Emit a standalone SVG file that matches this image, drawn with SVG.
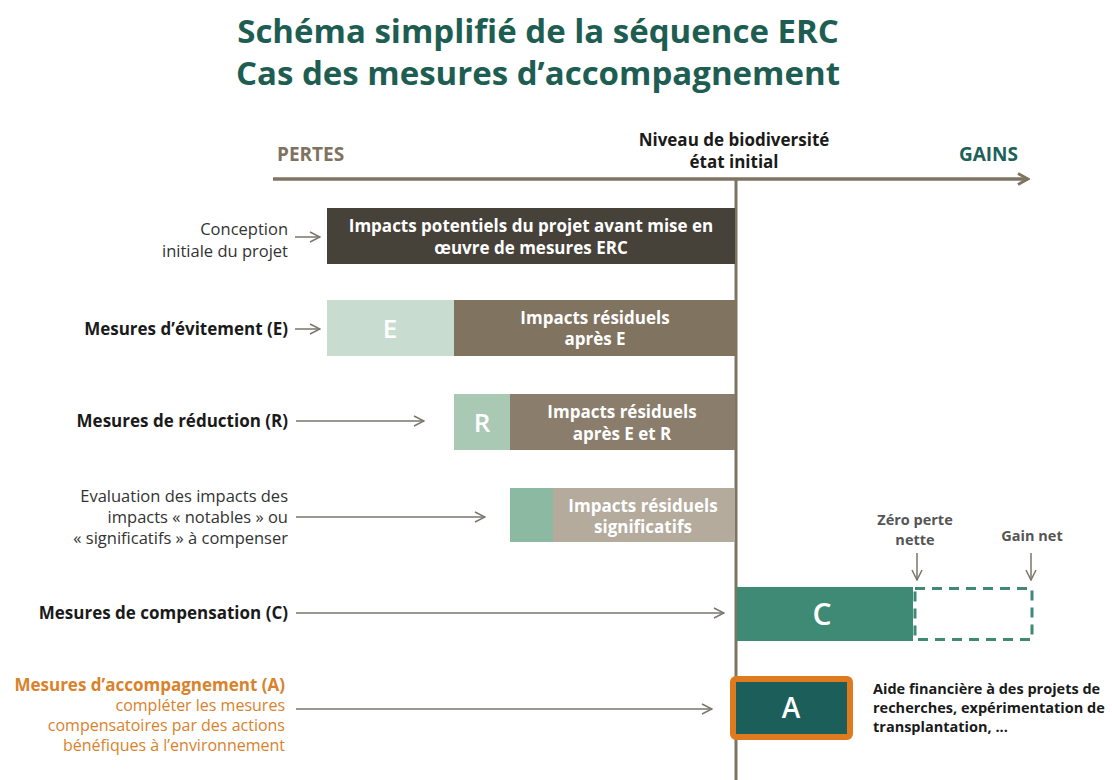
<svg xmlns="http://www.w3.org/2000/svg" width="1112" height="780" viewBox="0 0 1112 780">
<defs>
<style>
text{font-family:"Open Sans","Noto Sans","DejaVu Sans",sans-serif}
.title{font-size:33px;font-weight:700;fill:#1e5e52;text-anchor:middle}
.axislbl{font-size:19px;font-weight:700}
.lbl{font-size:16.5px;fill:#333;text-anchor:end}
.lblb{font-size:17px;font-weight:700;fill:#1a1a1a;text-anchor:end}
.box{font-size:17px;font-weight:700;fill:#ffffff;text-anchor:middle}
.small{font-size:14.5px;font-weight:700}
.letter{font-weight:600;fill:#ffffff;text-anchor:middle}
.conn{stroke:#7a766c;stroke-width:1.5;fill:none}
.orange{fill:#d9822b;text-anchor:end}
</style>
<marker id="ah" viewBox="0 0 12 12" refX="11" refY="6" markerWidth="12" markerHeight="12" markerUnits="userSpaceOnUse" orient="auto">
<path d="M1,1 L11,6 L1,11" fill="none" stroke="#7a766c" stroke-width="1.5"/>
</marker>
<marker id="axh" viewBox="0 0 14 14" refX="12" refY="7" markerWidth="14" markerHeight="14" markerUnits="userSpaceOnUse" orient="auto">
<path d="M2,1.5 L12,7 L2,12.5" fill="none" stroke="#7f7462" stroke-width="3"/>
</marker>
</defs>
<rect width="1112" height="780" fill="#ffffff"/>

<g id="title">
<text class="title" x="538" y="43">Schéma simplifié de la séquence ERC</text>
<text class="title" x="538" y="85">Cas des mesures d’accompagnement</text>
</g>

<g id="axis">
<line x1="273" y1="179" x2="1028" y2="179" stroke="#7f7462" stroke-width="3.5" marker-end="url(#axh)"/>
<line x1="736" y1="179" x2="736" y2="780" stroke="#7f7462" stroke-width="3"/>
<text class="axislbl" x="277" y="161" fill="#7f735f">PERTES</text>
<text class="axislbl" x="1018" y="161" fill="#20605a" text-anchor="end">GAINS</text>
<text x="734" y="146" font-size="17" font-weight="700" fill="#1a1a1a" text-anchor="middle">Niveau de biodiversité</text>
<text x="734" y="168" font-size="17" font-weight="700" fill="#1a1a1a" text-anchor="middle">état initial</text>
</g>

<g id="connectors">
<line class="conn" x1="295" y1="237" x2="320" y2="237" marker-end="url(#ah)"/>
<line class="conn" x1="295" y1="329" x2="320" y2="329" marker-end="url(#ah)"/>
<line class="conn" x1="296" y1="421" x2="424" y2="421" marker-end="url(#ah)"/>
<line class="conn" x1="296" y1="517" x2="485" y2="517" marker-end="url(#ah)"/>
<line class="conn" x1="296" y1="613" x2="724" y2="613" marker-end="url(#ah)"/>
<line class="conn" x1="296" y1="709" x2="712" y2="709" marker-end="url(#ah)"/>
<line class="conn" x1="917" y1="553" x2="917" y2="580" marker-end="url(#ah)"/>
<line class="conn" x1="1031" y1="553" x2="1031" y2="580" marker-end="url(#ah)"/>
</g>

<g id="conception">
<text class="lbl" x="288" y="235">Conception</text>
<text class="lbl" x="288" y="257">initiale du projet</text>
<rect x="327" y="208" width="408" height="56" fill="#46423a"/>
<text class="box" x="531" y="232">Impacts potentiels du projet avant mise en</text>
<text class="box" x="531" y="254">œuvre de mesures ERC</text>
</g>

<g id="evitement">
<text class="lblb" x="288" y="335">Mesures d’évitement (E)</text>
<rect x="327" y="300" width="127" height="56" fill="#c8ddd0"/>
<rect x="454" y="300" width="281" height="56" fill="#80735f"/>
<text class="letter" x="390" y="338" font-size="26">E</text>
<text class="box" x="595" y="324">Impacts résiduels</text>
<text class="box" x="595" y="345">après E</text>
</g>

<g id="reduction">
<text class="lblb" x="288" y="427">Mesures de réduction (R)</text>
<rect x="454" y="394" width="56" height="56" fill="#a9c9b5"/>
<rect x="510" y="394" width="225" height="56" fill="#8a7d6b"/>
<text class="letter" x="482" y="432" font-size="26">R</text>
<text class="box" x="622" y="418">Impacts résiduels</text>
<text class="box" x="622" y="440">après E et R</text>
</g>

<g id="significatifs">
<text class="lbl" x="288" y="502">Evaluation des impacts des</text>
<text class="lbl" x="288" y="523">impacts « notables » ou</text>
<text class="lbl" x="288" y="544">« significatifs » à compenser</text>
<rect x="510" y="488" width="43" height="54" fill="#8cb9a2"/>
<rect x="553" y="488" width="182" height="54" fill="#b5ab9d"/>
<text class="box" x="643" y="512">Impacts résiduels</text>
<text class="box" x="643" y="533">significatifs</text>
</g>

<g id="compensation">
<text class="lblb" x="288" y="619">Mesures de compensation (C)</text>
<rect x="915" y="588.5" width="117" height="51" fill="none" stroke="#3f8a74" stroke-width="3" stroke-dasharray="10 7"/>
<rect x="737" y="587" width="176" height="54" fill="#3f8a74"/>
<text class="letter" x="822" y="625" font-size="30" font-weight="700">C</text>
<text class="small" x="915" y="525" fill="#555" text-anchor="middle">Zéro perte</text>
<text class="small" x="915" y="545" fill="#555" text-anchor="middle">nette</text>
<text class="small" x="1032" y="541" fill="#555" text-anchor="middle">Gain net</text>
</g>

<g id="accompagnement">
<text class="orange" x="285" y="691" font-size="17" font-weight="700">Mesures d’accompagnement (A)</text>
<text class="orange" x="285" y="711" font-size="16">compléter les mesures</text>
<text class="orange" x="285" y="731" font-size="16">compensatoires par des actions</text>
<text class="orange" x="285" y="751" font-size="16">bénéfiques à l’environnement</text>
<rect x="733" y="679" width="117" height="58" rx="3" fill="#1b5e5a" stroke="#e07a1f" stroke-width="6"/>
<text class="letter" x="791" y="718" font-size="28" font-weight="700">A</text>
<text class="small" x="873" y="694" fill="#1a1a1a" font-size="14">Aide financière à des projets de</text>
<text class="small" x="873" y="713" fill="#1a1a1a" font-size="14">recherches, expérimentation de</text>
<text class="small" x="873" y="732" fill="#1a1a1a" font-size="14">transplantation, ...</text>
</g>
</svg>
